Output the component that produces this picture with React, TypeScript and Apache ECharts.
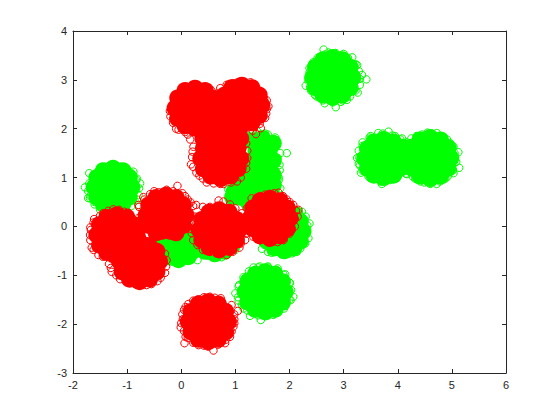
import React, { useEffect, useRef } from "react";
import * as echarts from "echarts";

type P = [number, number];

const xTicks = { min: -2, max: 6, interval: 1 };
const yTicks = { min: -3, max: 4, interval: 1 };

// Dense centres of the clusters (solid areas in the picture)
const greenCore: P[] = [
  [-1.26, 0.8], [-1.44, 0.8], [-1.08, 0.8], [-1.35, 0.98], [-1.17, 0.98], [-1.35, 0.62], [-1.17, 0.62],
  [2.8, 3.05], [2.58, 3.05], [3.02, 3.05], [2.69, 3.26], [2.91, 3.26], [2.69, 2.84], [2.91, 2.84],
  [3.74, 1.39], [3.55, 1.39], [3.93, 1.39], [3.64, 1.58], [3.84, 1.58], [3.64, 1.2], [3.84, 1.2],
  [4.6, 1.4], [4.4, 1.4], [4.8, 1.4], [4.5, 1.6], [4.7, 1.6], [4.5, 1.2], [4.7, 1.2], [4.17, 1.4],
  [1.55, -1.34], [1.35, -1.34], [1.75, -1.34], [1.45, -1.14], [1.65, -1.14], [1.45, -1.54], [1.65, -1.54],
  [1.5, 1.55], [1.5, 1.3], [1.52, 1.08], [1.3, 0.8], [1.5, 0.8], [1.15, 0.72], [1.35, 0.55],
  [1.9, -0.1], [1.7, -0.1], [2.1, -0.1], [1.8, 0.1], [2.0, 0.1], [1.8, -0.28], [2.0, -0.28],
  [0.62, -0.17], [0.42, -0.17], [0.82, -0.17], [0.52, 0.02], [0.72, 0.02], [0.52, -0.32], [0.72, -0.32],
  [-0.05, -0.3], [-0.2, -0.3], [0.1, -0.3], [-0.12, -0.48], [0.04, -0.48],
];

const redCore: P[] = [
  [0.255, 2.42], [0.05, 2.42], [0.46, 2.42], [0.15, 2.62], [0.36, 2.62], [0.15, 2.22], [0.36, 2.22],
  [1.12, 2.48], [0.91, 2.48], [1.33, 2.48], [1.01, 2.68], [1.23, 2.68], [1.01, 2.28], [1.23, 2.28],
  [0.73, 1.39], [0.52, 1.39], [0.94, 1.39], [0.62, 1.59], [0.84, 1.59], [0.62, 1.19], [0.84, 1.19],
  [0.7, 1.9], [0.55, 1.9], [0.85, 1.9], [0.68, 2.2],
  [-1.19, -0.175], [-1.4, -0.175], [-0.98, -0.175], [-1.3, 0.03], [-1.08, 0.03], [-1.3, -0.38], [-1.08, -0.38],
  [-0.77, -0.72], [-0.98, -0.72], [-0.56, -0.72], [-0.88, -0.52], [-0.66, -0.52], [-0.88, -0.92], [-0.66, -0.92],
  [-0.28, 0.23], [-0.49, 0.23], [-0.07, 0.23], [-0.39, 0.43], [-0.17, 0.43], [-0.39, 0.03], [-0.17, 0.03],
  [0.7, -0.07], [0.49, -0.07], [0.91, -0.07], [0.6, 0.13], [0.81, 0.13], [0.6, -0.27], [0.81, -0.27],
  [1.64, 0.165], [1.43, 0.165], [1.85, 0.165], [1.53, 0.365], [1.75, 0.365], [1.53, -0.035], [1.75, -0.035],
  [0.5, -1.95], [0.29, -1.95], [0.71, -1.95], [0.39, -1.75], [0.61, -1.75], [0.39, -2.15], [0.61, -2.15],
];

// Solid rims of the clusters
const greenRim: P[] = [
  [-0.91, 0.8], [-1.61, 0.8], [-1.26, 1.19], [-1.26, 0.41], [-1.08, 1.14], [-1.44, 1.14], [-1.08, 0.46], [-1.44, 0.46], [-0.96, 1.0], [-1.56, 1.0], [-0.96, 0.6], [-1.56, 0.6],
  [3.17, 3.05], [2.43, 3.05], [2.8, 3.46], [2.8, 2.64], [2.98, 3.41], [2.62, 3.41], [2.98, 2.69], [2.62, 2.69], [3.12, 3.26], [2.48, 3.26], [3.12, 2.84], [2.48, 2.84],
  [3.39, 1.39], [3.74, 1.78], [3.74, 1.0], [3.92, 1.73], [3.56, 1.73], [3.92, 1.05], [3.56, 1.05], [4.04, 1.59], [3.44, 1.59], [4.04, 1.19], [3.44, 1.19],
  [4.1, 1.62], [4.25, 1.62], [4.1, 1.22], [4.25, 1.22],
  [4.98, 1.4], [4.6, 1.82], [4.6, 0.98], [4.79, 1.77], [4.41, 1.77], [4.79, 1.03], [4.41, 1.03], [4.93, 1.61], [4.27, 1.61], [4.93, 1.19], [4.27, 1.19],
  [1.92, -1.34], [1.18, -1.34], [1.55, -0.93], [1.55, -1.75], [1.73, -0.98], [1.37, -0.98], [1.73, -1.7], [1.37, -1.7], [1.87, -1.13], [1.23, -1.13], [1.87, -1.55], [1.23, -1.55],
  [2.25, -0.1], [1.9, -0.5], [2.08, -0.44], [1.72, -0.44], [2.2, -0.3], [2.2, 0.1], [2.1, 0.25], [1.58, -0.3],
  [0.62, -0.56], [0.8, -0.51], [0.44, -0.51], [0.94, -0.38], [0.3, -0.38],
  [-0.05, -0.68], [0.13, -0.62], [-0.23, -0.62], [0.22, -0.5], [-0.33, -0.5],
  [0.98, 0.72], [0.95, 0.6], [1.7, 0.85], [1.65, 0.7], [1.7, 1.05], [1.3, 1.75], [1.7, 1.7], [1.7, 1.35], [1.3, 1.35], [1.3, 1.1], [1.5, 1.8],
];
const redRim: P[] = [
  [-0.115, 2.42], [0.255, 2.83], [0.255, 2.01], [0.44, 2.78], [0.07, 2.78], [0.44, 2.06], [0.07, 2.06], [0.575, 2.63], [-0.065, 2.63], [0.575, 2.21], [-0.065, 2.21],
  [1.49, 2.48], [1.12, 2.89], [1.12, 2.07], [1.305, 2.84], [0.935, 2.84], [1.305, 2.12], [0.935, 2.12], [1.44, 2.69], [0.8, 2.69], [1.44, 2.27], [0.8, 2.27],
  [1.1, 1.39], [0.36, 1.39], [0.73, 0.98], [0.915, 1.03], [0.545, 1.03], [1.05, 1.18], [0.41, 1.18], [1.05, 1.6], [0.41, 1.6], [1.1, 1.8], [0.4, 1.8],
  [-0.82, -0.175], [-1.56, -0.175], [-1.19, 0.235], [-1.005, 0.185], [-1.375, 0.185], [-1.375, -0.535], [-0.87, 0.035], [-1.51, 0.035], [-1.51, -0.385], [-1.25, -0.58],
  [-0.72, 0.02], [-0.8, -0.25],
  [-0.4, -0.72], [-1.14, -0.72], [-0.77, -1.13], [-0.585, -1.08], [-0.955, -1.08], [-0.45, -0.51], [-1.09, -0.93], [-0.45, -0.93],
  [0.09, 0.23], [-0.65, 0.23], [-0.28, 0.64], [-0.095, 0.59], [-0.465, 0.59], [-0.095, -0.13], [-0.465, -0.13], [0.04, 0.44], [-0.6, 0.44], [0.04, 0.02], [-0.6, 0.02],
  [1.07, -0.07], [0.33, -0.07], [0.7, 0.34], [0.7, -0.48], [0.885, 0.29], [0.515, 0.29], [0.885, -0.43], [0.515, -0.43], [1.02, 0.14], [0.38, 0.14], [1.02, -0.28], [0.38, -0.28],
  [2.01, 0.165], [1.27, 0.165], [1.64, 0.575], [1.64, -0.245], [1.825, 0.525], [1.455, 0.525], [1.825, -0.195], [1.455, -0.195], [1.96, 0.375], [1.32, 0.375], [1.96, -0.045], [1.32, -0.045],
  [0.87, -1.95], [0.13, -1.95], [0.5, -1.54], [0.5, -2.36], [0.685, -1.59], [0.315, -1.59], [0.685, -2.31], [0.315, -2.31], [0.82, -1.74], [0.18, -1.74], [0.82, -2.16], [0.18, -2.16],
];

// Individually visible open circles around the clusters
const greenEdgeLeft: P[] = [
  [-1.7, 1.09], [-1.78, 0.8], [-1.285, 1.26], [-0.76, 0.88], [-0.885, 1.12], [-1.12, 1.22], [-0.79, 0.64],
  [-1.72, 0.58], [-1.44, 1.19], [-1.685, 0.575], [-1.5, 0.34], [-0.79, 0.44], [-1.6, 0.95], [-1.55, 1.1],
  [-1.0, 1.18], [-0.82, 0.98], [-1.6, 0.45],
  [-1.72, 0.72], [-1.7, 0.88], [-1.62, 1.02], [-1.5, 1.13], [-1.38, 1.2], [-1.2, 1.22], [-1.05, 1.2], [-0.93, 1.1],
  [-0.83, 0.95], [-0.78, 0.78], [-0.82, 0.55], [-0.92, 0.42], [-1.1, 0.36], [-1.3, 0.35], [-1.45, 0.38], [-1.6, 0.5], [-1.68, 0.63],
];
const greenEdgeTop: P[] = [
  [2.63, 3.62], [2.72, 3.56], [3.0, 3.53], [3.16, 3.46], [2.44, 3.36], [2.37, 3.24], [2.3, 2.88], [3.42, 3.01],
  [3.34, 3.1], [3.26, 2.74], [2.47, 2.69], [2.65, 2.52], [2.855, 2.44], [3.06, 2.59], [2.85, 3.55], [2.35, 3.05],
  [3.25, 3.3], [3.3, 2.9], [2.4, 2.78], [2.95, 2.55],
  [2.37, 3.15], [2.42, 3.32], [2.52, 3.45], [2.66, 3.52], [2.8, 3.52], [2.94, 3.5], [3.08, 3.45], [3.22, 3.32], [3.28, 3.18],
  [3.3, 3.02], [3.22, 2.78], [3.12, 2.66], [2.98, 2.58], [2.8, 2.54], [2.62, 2.58], [2.5, 2.66], [2.38, 2.85], [2.35, 2.98],
];
const greenEdgeRight: P[] = [
  [3.48, 1.82], [3.83, 1.94], [3.64, 1.91], [3.95, 1.85], [3.29, 1.41], [3.32, 1.1], [3.46, 1.02], [3.705, 0.87],
  [3.86, 0.95], [4.17, 1.07], [4.08, 1.8], [3.35, 1.65], [3.3, 1.25], [4.0, 1.02],
  [4.35, 1.85], [4.55, 1.92], [4.72, 1.91], [4.91, 1.78], [5.03, 1.63], [5.12, 1.52], [5.135, 1.2], [5.03, 1.09],
  [4.72, 0.87], [4.49, 0.9], [4.32, 0.98], [4.88, 0.98], [5.05, 1.4],
  [3.28, 1.55], [3.35, 1.72], [3.5, 1.85], [3.72, 1.9], [3.9, 1.86], [4.05, 1.78], [4.17, 1.72], [3.28, 1.28], [3.35, 1.14],
  [3.52, 0.98], [3.68, 0.92], [3.85, 0.97], [4.0, 1.03], [4.15, 1.08], [3.25, 1.4],
  [4.25, 1.8], [4.45, 1.88], [4.62, 1.9], [4.82, 1.84], [4.97, 1.7], [5.05, 1.5], [5.08, 1.32], [5.02, 1.15], [4.92, 1.02],
  [4.78, 0.92], [4.6, 0.87], [4.42, 0.92], [4.28, 1.02],
];
const greenEdgeMiddle: P[] = [
  [1.735, 1.82], [1.83, 1.5], [1.95, 1.5], [1.815, 1.26], [1.72, 1.09], [1.83, 0.78], [0.87, 0.76], [1.3, 1.97],
  [1.55, 1.9], [1.18, 1.67], [1.24, 1.12], [1.8, 0.95], [1.18, 1.4],
  [0.3, -0.69], [0.21, -0.5], [0.01, -0.24], [0.75, -0.63], [0.5, -0.6], [-0.175, -0.72], [1.0, -0.48],
  [0.05, -0.62], [0.25, -0.58],
  [1.75, 1.65], [1.78, 1.4], [1.82, 1.15], [1.8, 1.0], [1.25, 1.85], [1.4, 1.95], [1.6, 1.88],
];
const greenEdgeLower: P[] = [
  [1.49, -0.46], [1.67, -0.54], [1.98, -0.56], [2.135, -0.52], [2.29, -0.35], [2.35, -0.24], [2.37, 0.06], [2.23, 0.3],
  [1.335, -0.84], [1.61, -0.84], [1.765, -0.89], [1.21, -1.03], [1.06, -1.23], [1.0, -1.37], [1.06, -1.52],
  [1.27, -1.83], [1.47, -1.915], [1.7, -1.81], [2.02, -1.51], [2.07, -1.44], [2.01, -1.16], [1.89, -0.99],
  [1.15, -1.68], [1.9, -1.68], [1.45, -0.82],
  [1.25, -0.92], [1.42, -0.84], [1.6, -0.82], [1.78, -0.86], [1.92, -0.98], [2.0, -1.15], [2.03, -1.3], [2.0, -1.5], [1.92, -1.63],
  [1.8, -1.74], [1.6, -1.82], [1.42, -1.82], [1.22, -1.72], [1.12, -1.6], [1.05, -1.45], [1.07, -1.2], [1.15, -1.04],
  [2.3, -0.1], [2.33, 0.02], [2.3, 0.2], [2.2, -0.45], [2.05, -0.55], [1.85, -0.56], [1.6, -0.52],
];
const redEdgeTop: P[] = [
  [1.28, 2.95], [1.1, 2.96], [0.84, 2.9], [0.52, 2.83], [0.1, 2.81], [-0.13, 2.62], [-0.21, 2.36], [-0.145, 2.21],
  [-0.095, 2.0], [0.07, 1.93], [0.165, 1.78], [0.225, 1.63], [0.21, 1.53], [0.18, 1.27], [0.335, 1.04], [0.47, 0.9],
  [0.78, 0.87], [1.03, 0.92], [1.38, 1.89], [1.47, 2.01], [1.57, 2.31], [1.61, 2.46], [1.46, 2.76], [1.3, 2.9],
  [0.3, 2.82], [-0.05, 2.72], [0.68, 2.72], [0.95, 2.93], [1.53, 2.62], [1.2, 1.3], [1.22, 1.55],
  [-0.15, 2.5], [-0.12, 2.62], [-0.02, 2.75], [0.12, 2.82], [0.28, 2.84], [0.42, 2.82], [0.56, 2.78], [0.72, 2.83], [0.88, 2.9],
  [1.02, 2.94], [1.18, 2.93], [1.38, 2.84], [1.5, 2.72], [1.58, 2.58], [1.58, 2.4], [1.55, 2.22], [1.45, 2.1], [1.32, 1.96],
  [-0.2, 2.25], [-0.15, 2.12], [-0.05, 1.98], [0.12, 1.88],
  [0.2, 1.42], [0.22, 1.22], [0.28, 1.1], [0.4, 0.98], [0.6, 0.88], [0.72, 0.87], [0.92, 0.9], [1.1, 1.0], [1.2, 1.18], [1.22, 1.4], [1.2, 1.7],
];
const redEdgeLeft: P[] = [
  [-0.07, 0.83], [-0.27, 0.75], [-0.575, 0.66], [-0.79, 0.44], [-0.79, 0.17], [0.07, 0.62], [0.175, 0.49], [0.275, 0.44],
  [-1.61, 0.15], [-1.67, -0.07], [-1.685, -0.175], [-1.655, -0.435], [-1.53, -0.585], [-1.255, 0.35], [-1.44, 0.27],
  [-1.335, -0.77], [-1.285, -0.93], [-1.13, -1.08], [-0.855, -1.18], [-0.64, -1.2], [-0.44, -1.12], [-0.3, -0.95],
  [-0.27, -0.69], [-0.3, -0.56], [-0.42, 0.7], [-0.68, 0.55], [-1.05, 0.3], [0.15, 0.1],
  [-1.68, -0.02], [-1.62, 0.08], [-1.5, 0.22], [-1.35, 0.32], [-1.15, 0.34], [-0.98, 0.28], [-1.68, -0.28], [-1.62, -0.48], [-1.45, -0.62],
  [-1.3, -0.85], [-1.2, -1.0], [-1.02, -1.12], [-0.75, -1.2], [-0.55, -1.18], [-0.38, -1.05], [-0.28, -0.82],
  [-0.7, 0.6], [-0.5, 0.72], [-0.15, 0.72], [0.02, 0.68], [0.12, 0.55], [0.22, 0.42], [-0.78, 0.4],
];
const redEdgeRight: P[] = [
  [0.69, 0.53], [0.78, 0.51], [0.53, 0.4], [0.4, 0.4], [0.195, -0.14], [0.3, -0.38], [0.53, -0.52], [0.84, -0.585],
  [1.075, -0.435], [1.18, -0.28], [1.0, 0.37], [1.12, 0.27], [0.25, 0.2],
  [1.8, 0.69], [1.64, 0.66], [1.46, 0.62], [1.3, 0.575], [1.21, 0.37], [1.21, 0.0], [1.33, -0.21], [1.61, -0.33],
  [1.89, -0.28], [2.04, -0.07], [2.165, 0.34], [2.07, 0.44], [1.95, 0.55], [2.1, 0.15],
  [0.2, 0.1], [0.18, -0.05], [0.22, -0.28], [0.4, -0.48], [0.65, -0.55], [0.95, -0.52], [1.1, -0.35], [1.2, -0.15], [0.9, 0.45],
  [1.55, 0.65], [1.72, 0.68], [1.88, 0.62], [2.0, 0.5], [2.12, 0.32], [2.15, 0.2], [2.1, 0.0], [2.0, -0.15], [1.78, -0.32], [1.45, -0.28],
];
const redEdgeBottom: P[] = [
  [0.53, -1.44], [0.73, -1.47], [0.32, -1.49], [0.13, -1.59], [0.05, -1.71], [-0.01, -2.065], [0.08, -2.26], [0.06, -2.39],
  [0.32, -2.43], [0.595, -2.54], [0.81, -2.39], [0.9, -2.26], [0.965, -2.05], [1.045, -1.73], [0.93, -1.61],
  [0.03, -1.9], [0.5, -2.46], [0.98, -1.9],
  [0.42, -1.45], [0.62, -1.46], [0.22, -1.52], [0.08, -1.65], [0.02, -1.8], [0.0, -1.98], [0.05, -2.14], [0.12, -2.28], [0.22, -2.38],
  [0.42, -2.44], [0.68, -2.42], [0.82, -2.32], [0.93, -2.15], [0.98, -1.98], [0.98, -1.8],
];

const greenEdge: P[] = [...greenEdgeLeft, ...greenEdgeTop, ...greenEdgeRight, ...greenEdgeMiddle, ...greenEdgeLower];
const redEdge: P[] = [...redEdgeTop, ...redEdgeLeft, ...redEdgeRight, ...redEdgeBottom];

const GREEN = "#00ff00";
const RED = "#ff0000";
const INK = "#262626";

function App() {
  const ref = useRef<HTMLDivElement>(null);
  useEffect(() => {
    const chart = echarts.init(ref.current!, undefined, { renderer: "svg" });
    const line = { show: true, onZero: false, lineStyle: { color: INK, width: 1 } };
    const tick = { show: true, inside: true, length: 4, lineStyle: { color: INK, width: 1 } };
    const label = { color: INK, fontSize: 11, fontFamily: "Liberation Sans", margin: 6 };
    const fill = (data: P[], color: string, size: number) => ({
      type: "scatter", data, symbol: "circle", symbolSize: size, silent: true,
      itemStyle: { color, opacity: 1 },
    });
    const edge = (data: P[], color: string) => ({
      type: "scatter", data, symbol: "circle", symbolSize: 7.5, silent: true,
      itemStyle: { color: "transparent", borderColor: color, borderWidth: 1, opacity: 1 },
    });
    chart.setOption({
      animation: false,
      backgroundColor: "#ffffff",
      grid: { left: 73, right: 54, top: 31, bottom: 47, containLabel: false },
      xAxis: [
        { type: "value", ...xTicks, axisLine: line, axisTick: tick, axisLabel: label, splitLine: { show: false } },
        { type: "value", position: "top", ...xTicks, axisLine: line, axisTick: tick, axisLabel: { show: false }, splitLine: { show: false } },
      ],
      yAxis: [
        { type: "value", ...yTicks, axisLine: line, axisTick: tick, axisLabel: label, splitLine: { show: false } },
        { type: "value", position: "right", ...yTicks, axisLine: line, axisTick: tick, axisLabel: { show: false }, splitLine: { show: false } },
      ],
      series: [
        edge(greenEdge, GREEN),
        fill(greenCore, GREEN, 30),
        fill(greenRim, GREEN, 17),
        edge(redEdge, RED),
        fill(redCore, RED, 30),
        fill(redRim, RED, 17),
      ],
    });
    return () => chart.dispose();
  }, []);
  return <div ref={ref} style={{ position: "absolute", left: 0, top: 0, width: 560, height: 420 }} />;
}

export default App;
